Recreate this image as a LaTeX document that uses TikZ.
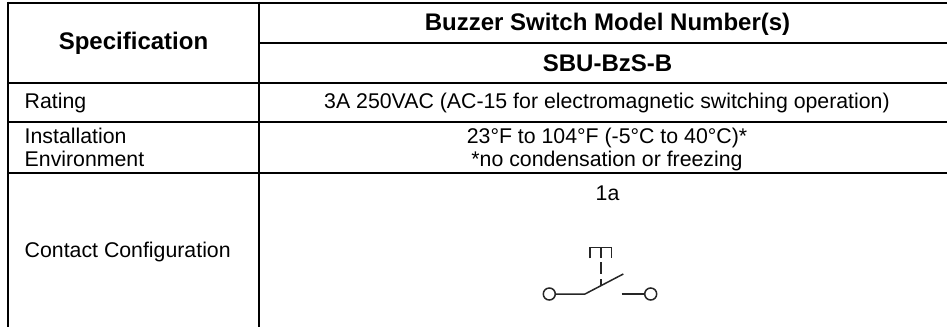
\documentclass[tikz,border=0pt]{standalone}
\usepackage{fontspec}
\setmainfont{Liberation Sans}
\usepackage{tikz}
\tikzset{
  rule/.style={draw=black, line width=2pt},
  head/.style={text=black, font=\fontsize{24}{24}\selectfont\bfseries},
  lab/.style={text=black, font=\fontsize{21.3}{23.5}\selectfont, align=left, inner sep=0pt},
  val/.style={text=black, font=\fontsize{21.3}{23.5}\selectfont, align=center, inner sep=0pt},
  wire/.style={draw=black!85, line width=1.5pt},
  term/.style={circle, draw=black!85, line width=1.5pt, inner sep=0pt, minimum size=12pt}
}
\begin{document}
\begin{tikzpicture}[x=1pt,y=-1pt]
  \useasboundingbox (0,0) rectangle (947,327);

  % table rules
  \draw[rule] (7.3,2.7) -- (947,2.7);
  \draw[rule] (258.7,42.7) -- (947,42.7);
  \draw[rule] (8.3,82.7) -- (947,82.7);
  \draw[rule] (8.3,121.7) -- (947,121.7);
  \draw[rule] (8.3,172.7) -- (947,172.7);
  \draw[rule] (8.3,1.7) -- (8.3,327);
  \draw[rule] (258.7,1.7) -- (258.7,327);

  % headings
  \node[head] (spec) at (133.5,43) {Specification};
  \node[head] (model) at (607.5,24) {Buzzer Switch Model Number(s)};
  \node[head] (part) at (607.5,63) {SBU-BzS-B};

  % rows
  \node[lab, anchor=west] (rating) at (24.5,103) {Rating};
  \node[val] (ratingval) at (607,103) {3A 250VAC (AC-15 for electromagnetic switching operation)};
  \node[lab, anchor=west] (install) at (24.5,147.5) {Installation\\Environment};
  \node[val] (installval) at (607,149.5) {23°F to 104°F (-5°C to 40°C)*\\*no condensation or freezing};
  \node[lab, anchor=west] (contact) at (24.5,252.3) {Contact Configuration};
  \node[val] (config) at (607.5,193) {1a};

  % contact symbol
  \node[term] (left) at (549.3,294) {};
  \node[term] (right) at (650.7,294) {};
  \coordinate (hinge) at (585,294);
  \coordinate (tip) at (623.3,274);
  \coordinate (gap) at (621.7,294);
  \draw[wire] (left) -- (hinge) -- (tip);
  \draw[wire] (gap) -- (right);
  \draw[wire] (590,258.3) -- (590,247.3) -- (611.7,247.3) -- (611.7,258.3);
  \draw[wire] (601,247.3) -- (601,258.3);
  \draw[wire] (601,262) -- (601,274);
  \draw[wire] (601,279) -- (601,286);
\end{tikzpicture}
\end{document}
